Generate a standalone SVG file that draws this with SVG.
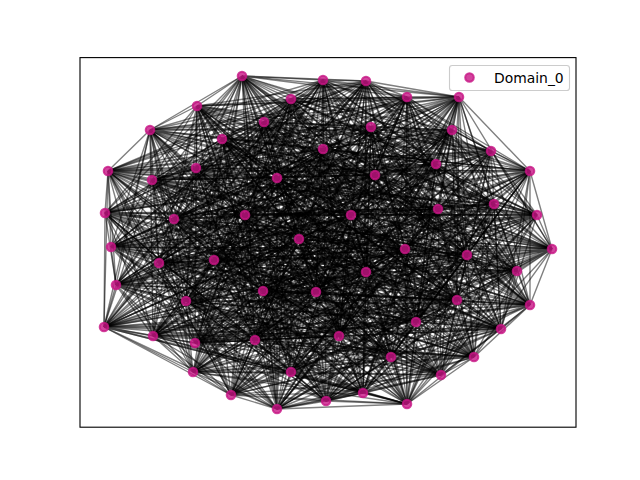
<svg xmlns="http://www.w3.org/2000/svg" width="640" height="480" viewBox="0 0 640 480">
<style>
.n{fill:#C71585;fill-opacity:0.8;stroke:#C71585;stroke-opacity:0.8;stroke-width:2}
#edges path{stroke:#000;stroke-opacity:0.5;stroke-width:1.39;fill:none}
</style>
<rect x="0" y="0" width="640" height="480" fill="#fff"/>
<g id="edges">
<path d="M242 76L323 80M242 76L407 97M242 76L197 106M242 76L222 139M242 76L491 151M242 76L196 168M242 76L277 178M242 76L105 213M242 76L351 215M242 76L537 215M242 76L111 247"/>
<path d="M323 80L366 81M323 80L459 97M323 80L150 130M323 80L371 127M323 80L530 171M323 80L152 180M323 80L375 175M323 80L174 219M323 80L438 209M323 80L552 249M323 80L299 239"/>
<path d="M366 81L407 97M366 81L291 99M366 81L264 122M366 81L452 130M366 81L108 171M366 81L323 149M366 81L436 164M366 81L245 215M366 81L494 204M366 81L111 247M366 81L405 249"/>
<path d="M407 97L459 97M407 97L197 106M407 97L222 139M407 97L491 151M407 97L196 168M407 97L277 178M407 97L105 213M407 97L351 215M407 97L537 215M407 97L299 239M407 97L467 255"/>
<path d="M459 97L291 99M459 97L150 130M459 97L371 127M459 97L530 171M459 97L152 180M459 97L375 175M459 97L174 219M459 97L438 209M459 97L552 249M459 97L405 249M459 97L214 260"/>
<path d="M291 99L197 106M291 99L264 122M291 99L452 130M291 99L108 171M291 99L323 149M291 99L436 164M291 99L245 215M291 99L494 204M291 99L111 247M291 99L467 255M291 99L159 263"/>
<path d="M197 106L150 130M197 106L222 139M197 106L491 151M197 106L196 168M197 106L277 178M197 106L105 213M197 106L351 215M197 106L537 215M197 106L299 239M197 106L214 260M197 106L517 271"/>
<path d="M150 130L264 122M150 130L371 127M150 130L530 171M150 130L152 180M150 130L375 175M150 130L174 219M150 130L438 209M150 130L552 249M150 130L405 249M150 130L159 263M150 130L116 285"/>
<path d="M264 122L222 139M264 122L452 130M264 122L108 171M264 122L323 149M264 122L436 164M264 122L245 215M264 122L494 204M264 122L111 247M264 122L467 255M264 122L517 271M264 122L366 272"/>
<path d="M222 139L371 127M222 139L491 151M222 139L196 168M222 139L277 178M222 139L105 213M222 139L351 215M222 139L537 215M222 139L299 239M222 139L214 260M222 139L116 285M222 139L263 291"/>
<path d="M371 127L452 130M371 127L530 171M371 127L152 180M371 127L375 175M371 127L174 219M371 127L438 209M371 127L552 249M371 127L405 249M371 127L159 263M371 127L366 272M371 127L316 292"/>
<path d="M452 130L491 151M452 130L108 171M452 130L323 149M452 130L436 164M452 130L245 215M452 130L494 204M452 130L111 247M452 130L467 255M452 130L517 271M452 130L263 291M452 130L457 300"/>
<path d="M491 151L530 171M491 151L196 168M491 151L277 178M491 151L105 213M491 151L351 215M491 151L537 215M491 151L299 239M491 151L214 260M491 151L116 285M491 151L316 292M491 151L530 305"/>
<path d="M530 171L108 171M530 171L152 180M530 171L375 175M530 171L174 219M530 171L438 209M530 171L552 249M530 171L405 249M530 171L159 263M530 171L366 272M530 171L457 300M530 171L186 301"/>
<path d="M108 171L196 168M108 171L323 149M108 171L436 164M108 171L245 215M108 171L494 204M108 171L111 247M108 171L467 255M108 171L517 271M108 171L263 291M108 171L530 305M108 171L104 327"/>
<path d="M196 168L152 180M196 168L277 178M196 168L105 213M196 168L351 215M196 168L537 215M196 168L299 239M196 168L214 260M196 168L116 285M196 168L316 292M196 168L186 301M196 168L416 322"/>
<path d="M152 180L323 149M152 180L375 175M152 180L174 219M152 180L438 209M152 180L552 249M152 180L405 249M152 180L159 263M152 180L366 272M152 180L457 300M152 180L104 327M152 180L501 329"/>
<path d="M323 149L277 178M323 149L436 164M323 149L245 215M323 149L494 204M323 149L111 247M323 149L467 255M323 149L517 271M323 149L263 291M323 149L530 305M323 149L416 322M323 149L153 336"/>
<path d="M277 178L375 175M277 178L105 213M277 178L351 215M277 178L537 215M277 178L299 239M277 178L214 260M277 178L116 285M277 178L316 292M277 178L186 301M277 178L501 329M277 178L195 343"/>
<path d="M375 175L436 164M375 175L174 219M375 175L438 209M375 175L552 249M375 175L405 249M375 175L159 263M375 175L366 272M375 175L457 300M375 175L104 327M375 175L153 336M375 175L255 340"/>
<path d="M436 164L105 213M436 164L245 215M436 164L494 204M436 164L111 247M436 164L467 255M436 164L517 271M436 164L263 291M436 164L530 305M436 164L416 322M436 164L195 343M436 164L339 336"/>
<path d="M105 213L174 219M105 213L351 215M105 213L537 215M105 213L299 239M105 213L214 260M105 213L116 285M105 213L316 292M105 213L186 301M105 213L501 329M105 213L255 340M105 213L474 357"/>
<path d="M174 219L245 215M174 219L438 209M174 219L552 249M174 219L405 249M174 219L159 263M174 219L366 272M174 219L457 300M174 219L104 327M174 219L153 336M174 219L339 336M174 219L391 357"/>
<path d="M245 215L351 215M245 215L494 204M245 215L111 247M245 215L467 255M245 215L517 271M245 215L263 291M245 215L530 305M245 215L416 322M245 215L195 343M245 215L474 357M245 215L193 372"/>
<path d="M351 215L438 209M351 215L537 215M351 215L299 239M351 215L214 260M351 215L116 285M351 215L316 292M351 215L186 301M351 215L501 329M351 215L255 340M351 215L391 357M351 215L291 372"/>
<path d="M438 209L494 204M438 209L552 249M438 209L405 249M438 209L159 263M438 209L366 272M438 209L457 300M438 209L104 327M438 209L153 336M438 209L339 336M438 209L193 372M438 209L441 375"/>
<path d="M494 204L537 215M494 204L111 247M494 204L467 255M494 204L517 271M494 204L263 291M494 204L530 305M494 204L416 322M494 204L195 343M494 204L474 357M494 204L291 372M494 204L231 395"/>
<path d="M537 215L552 249M537 215L299 239M537 215L214 260M537 215L116 285M537 215L316 292M537 215L186 301M537 215L501 329M537 215L255 340M537 215L391 357M537 215L441 375M537 215L277 409"/>
<path d="M552 249L111 247M552 249L405 249M552 249L159 263M552 249L366 272M552 249L457 300M552 249L104 327M552 249L153 336M552 249L339 336M552 249L193 372M552 249L231 395M552 249L326 401"/>
<path d="M111 247L299 239M111 247L467 255M111 247L517 271M111 247L263 291M111 247L530 305M111 247L416 322M111 247L195 343M111 247L474 357M111 247L291 372M111 247L277 409M111 247L363 393"/>
<path d="M299 239L405 249M299 239L214 260M299 239L116 285M299 239L316 292M299 239L186 301M299 239L501 329M299 239L255 340M299 239L391 357M299 239L441 375M299 239L326 401M299 239L407 404"/>
<path d="M405 249L467 255M405 249L159 263M405 249L366 272M405 249L457 300M405 249L104 327M405 249L153 336M405 249L339 336M405 249L193 372M405 249L231 395M405 249L363 393M405 249L242 76"/>
<path d="M467 255L214 260M467 255L517 271M467 255L263 291M467 255L530 305M467 255L416 322M467 255L195 343M467 255L474 357M467 255L291 372M467 255L277 409M467 255L407 404M467 255L323 80"/>
<path d="M214 260L159 263M214 260L116 285M214 260L316 292M214 260L186 301M214 260L501 329M214 260L255 340M214 260L391 357M214 260L441 375M214 260L326 401M214 260L242 76M214 260L366 81"/>
<path d="M159 263L517 271M159 263L366 272M159 263L457 300M159 263L104 327M159 263L153 336M159 263L339 336M159 263L193 372M159 263L231 395M159 263L363 393M159 263L323 80M159 263L407 97"/>
<path d="M517 271L116 285M517 271L263 291M517 271L530 305M517 271L416 322M517 271L195 343M517 271L474 357M517 271L291 372M517 271L277 409M517 271L407 404M517 271L366 81M517 271L459 97"/>
<path d="M116 285L366 272M116 285L316 292M116 285L186 301M116 285L501 329M116 285L255 340M116 285L391 357M116 285L441 375M116 285L326 401M116 285L242 76M116 285L407 97M116 285L291 99"/>
<path d="M366 272L263 291M366 272L457 300M366 272L104 327M366 272L153 336M366 272L339 336M366 272L193 372M366 272L231 395M366 272L363 393M366 272L323 80M366 272L459 97M366 272L197 106"/>
<path d="M263 291L316 292M263 291L530 305M263 291L416 322M263 291L195 343M263 291L474 357M263 291L291 372M263 291L277 409M263 291L407 404M263 291L366 81M263 291L291 99M263 291L150 130"/>
<path d="M316 292L457 300M316 292L186 301M316 292L501 329M316 292L255 340M316 292L391 357M316 292L441 375M316 292L326 401M316 292L242 76M316 292L407 97M316 292L197 106M316 292L264 122"/>
<path d="M457 300L530 305M457 300L104 327M457 300L153 336M457 300L339 336M457 300L193 372M457 300L231 395M457 300L363 393M457 300L323 80M457 300L459 97M457 300L150 130M457 300L222 139"/>
<path d="M530 305L186 301M530 305L416 322M530 305L195 343M530 305L474 357M530 305L291 372M530 305L277 409M530 305L407 404M530 305L366 81M530 305L291 99M530 305L264 122M530 305L371 127"/>
<path d="M186 301L104 327M186 301L501 329M186 301L255 340M186 301L391 357M186 301L441 375M186 301L326 401M186 301L242 76M186 301L407 97M186 301L197 106M186 301L222 139M186 301L452 130"/>
<path d="M104 327L416 322M104 327L153 336M104 327L339 336M104 327L193 372M104 327L231 395M104 327L363 393M104 327L323 80M104 327L459 97M104 327L150 130M104 327L371 127M104 327L491 151"/>
<path d="M416 322L501 329M416 322L195 343M416 322L474 357M416 322L291 372M416 322L277 409M416 322L407 404M416 322L366 81M416 322L291 99M416 322L264 122M416 322L452 130M416 322L530 171"/>
<path d="M501 329L153 336M501 329L255 340M501 329L391 357M501 329L441 375M501 329L326 401M501 329L242 76M501 329L407 97M501 329L197 106M501 329L222 139M501 329L491 151M501 329L108 171"/>
<path d="M153 336L195 343M153 336L339 336M153 336L193 372M153 336L231 395M153 336L363 393M153 336L323 80M153 336L459 97M153 336L150 130M153 336L371 127M153 336L530 171M153 336L196 168"/>
<path d="M195 343L255 340M195 343L474 357M195 343L291 372M195 343L277 409M195 343L407 404M195 343L366 81M195 343L291 99M195 343L264 122M195 343L452 130M195 343L108 171M195 343L152 180"/>
<path d="M255 340L339 336M255 340L391 357M255 340L441 375M255 340L326 401M255 340L242 76M255 340L407 97M255 340L197 106M255 340L222 139M255 340L491 151M255 340L196 168M255 340L323 149"/>
<path d="M339 336L474 357M339 336L193 372M339 336L231 395M339 336L363 393M339 336L323 80M339 336L459 97M339 336L150 130M339 336L371 127M339 336L530 171M339 336L152 180M339 336L277 178"/>
<path d="M474 357L391 357M474 357L291 372M474 357L277 409M474 357L407 404M474 357L366 81M474 357L291 99M474 357L264 122M474 357L452 130M474 357L108 171M474 357L323 149M474 357L375 175"/>
<path d="M391 357L193 372M391 357L441 375M391 357L326 401M391 357L242 76M391 357L407 97M391 357L197 106M391 357L222 139M391 357L491 151M391 357L196 168M391 357L277 178M391 357L436 164"/>
<path d="M193 372L291 372M193 372L231 395M193 372L363 393M193 372L323 80M193 372L459 97M193 372L150 130M193 372L371 127M193 372L530 171M193 372L152 180M193 372L375 175M193 372L105 213"/>
<path d="M291 372L441 375M291 372L277 409M291 372L407 404M291 372L366 81M291 372L291 99M291 372L264 122M291 372L452 130M291 372L108 171M291 372L323 149M291 372L436 164M291 372L174 219"/>
<path d="M441 375L231 395M441 375L326 401M441 375L242 76M441 375L407 97M441 375L197 106M441 375L222 139M441 375L491 151M441 375L196 168M441 375L277 178M441 375L105 213M441 375L245 215"/>
<path d="M231 395L277 409M231 395L363 393M231 395L323 80M231 395L459 97M231 395L150 130M231 395L371 127M231 395L530 171M231 395L152 180M231 395L375 175M231 395L174 219M231 395L351 215"/>
<path d="M277 409L326 401M277 409L407 404M277 409L366 81M277 409L291 99M277 409L264 122M277 409L452 130M277 409L108 171M277 409L323 149M277 409L436 164M277 409L245 215M277 409L438 209"/>
<path d="M326 401L363 393M326 401L242 76M326 401L407 97M326 401L197 106M326 401L222 139M326 401L491 151M326 401L196 168M326 401L277 178M326 401L105 213M326 401L351 215M326 401L494 204"/>
<path d="M363 393L407 404M363 393L323 80M363 393L459 97M363 393L150 130M363 393L371 127M363 393L530 171M363 393L152 180M363 393L375 175M363 393L174 219M363 393L438 209M363 393L537 215"/>
<path d="M407 404L242 76M407 404L366 81M407 404L291 99M407 404L264 122M407 404L452 130M407 404L108 171M407 404L323 149M407 404L436 164M407 404L245 215M407 404L494 204M407 404L552 249"/>
<path d="M242 76L366 81M242 76L459 97M242 76L150 130M242 76L371 127M242 76L530 171M242 76L152 180M242 76L375 175M242 76L174 219M242 76L438 209M242 76L552 249"/>
<path d="M323 80L407 97M323 80L291 99M323 80L264 122M323 80L452 130M323 80L108 171M323 80L323 149M323 80L436 164M323 80L245 215M323 80L494 204M323 80L111 247"/>
<path d="M366 81L459 97M366 81L197 106M366 81L222 139M366 81L491 151M366 81L196 168M366 81L277 178M366 81L105 213M366 81L351 215M366 81L537 215M366 81L299 239"/>
<path d="M407 97L291 99M407 97L150 130M407 97L371 127M407 97L530 171M407 97L152 180M407 97L375 175M407 97L174 219M407 97L438 209M407 97L552 249M407 97L405 249"/>
<path d="M459 97L197 106M459 97L264 122M459 97L452 130M459 97L108 171M459 97L323 149M459 97L436 164M459 97L245 215M459 97L494 204M459 97L111 247M459 97L467 255"/>
<path d="M291 99L150 130M291 99L222 139M291 99L491 151M291 99L196 168M291 99L277 178M291 99L105 213M291 99L351 215M291 99L537 215M291 99L299 239M291 99L214 260"/>
<path d="M197 106L264 122M197 106L371 127M197 106L530 171M197 106L152 180M197 106L375 175M197 106L174 219M197 106L438 209M197 106L552 249M197 106L405 249M197 106L159 263"/>
<path d="M150 130L222 139M150 130L452 130M150 130L108 171M150 130L323 149M150 130L436 164M150 130L245 215M150 130L494 204M150 130L111 247M150 130L467 255M150 130L517 271"/>
<path d="M264 122L371 127M264 122L491 151M264 122L196 168M264 122L277 178M264 122L105 213M264 122L351 215M264 122L537 215M264 122L299 239M264 122L214 260M264 122L116 285"/>
<path d="M222 139L452 130M222 139L530 171M222 139L152 180M222 139L375 175M222 139L174 219M222 139L438 209M222 139L552 249M222 139L405 249M222 139L159 263M222 139L366 272"/>
<path d="M371 127L491 151M371 127L108 171M371 127L323 149M371 127L436 164M371 127L245 215M371 127L494 204M371 127L111 247M371 127L467 255M371 127L517 271M371 127L263 291"/>
<path d="M452 130L530 171M452 130L196 168M452 130L277 178M452 130L105 213M452 130L351 215M452 130L537 215M452 130L299 239M452 130L214 260M452 130L116 285M452 130L316 292"/>
<path d="M491 151L108 171M491 151L152 180M491 151L375 175M491 151L174 219M491 151L438 209M491 151L552 249M491 151L405 249M491 151L159 263M491 151L366 272M491 151L457 300"/>
<path d="M530 171L196 168M530 171L323 149M530 171L436 164M530 171L245 215M530 171L494 204M530 171L111 247M530 171L467 255M530 171L517 271M530 171L263 291M530 171L530 305"/>
<path d="M108 171L152 180M108 171L277 178M108 171L105 213M108 171L351 215M108 171L537 215M108 171L299 239M108 171L214 260M108 171L116 285M108 171L316 292M108 171L186 301"/>
<path d="M196 168L323 149M196 168L375 175M196 168L174 219M196 168L438 209M196 168L552 249M196 168L405 249M196 168L159 263M196 168L366 272M196 168L457 300M196 168L104 327"/>
<path d="M152 180L277 178M152 180L436 164M152 180L245 215M152 180L494 204M152 180L111 247M152 180L467 255M152 180L517 271M152 180L263 291M152 180L530 305M152 180L416 322"/>
<path d="M323 149L375 175M323 149L105 213M323 149L351 215M323 149L537 215M323 149L299 239M323 149L214 260M323 149L116 285M323 149L316 292M323 149L186 301M323 149L501 329"/>
<path d="M277 178L436 164M277 178L174 219M277 178L438 209M277 178L552 249M277 178L405 249M277 178L159 263M277 178L366 272M277 178L457 300M277 178L104 327M277 178L153 336"/>
<path d="M375 175L105 213M375 175L245 215M375 175L494 204M375 175L111 247M375 175L467 255M375 175L517 271M375 175L263 291M375 175L530 305M375 175L416 322M375 175L195 343"/>
<path d="M436 164L174 219M436 164L351 215M436 164L537 215M436 164L299 239M436 164L214 260M436 164L116 285M436 164L316 292M436 164L186 301M436 164L501 329M436 164L255 340"/>
<path d="M105 213L245 215M105 213L438 209M105 213L552 249M105 213L405 249M105 213L159 263M105 213L366 272M105 213L457 300M105 213L104 327M105 213L153 336M105 213L339 336"/>
<path d="M174 219L351 215M174 219L494 204M174 219L111 247M174 219L467 255M174 219L517 271M174 219L263 291M174 219L530 305M174 219L416 322M174 219L195 343M174 219L474 357"/>
<path d="M245 215L438 209M245 215L537 215M245 215L299 239M245 215L214 260M245 215L116 285M245 215L316 292M245 215L186 301M245 215L501 329M245 215L255 340M245 215L391 357"/>
<path d="M351 215L494 204M351 215L552 249M351 215L405 249M351 215L159 263M351 215L366 272M351 215L457 300M351 215L104 327M351 215L153 336M351 215L339 336M351 215L193 372"/>
<path d="M438 209L537 215M438 209L111 247M438 209L467 255M438 209L517 271M438 209L263 291M438 209L530 305M438 209L416 322M438 209L195 343M438 209L474 357M438 209L291 372"/>
<path d="M494 204L552 249M494 204L299 239M494 204L214 260M494 204L116 285M494 204L316 292M494 204L186 301M494 204L501 329M494 204L255 340M494 204L391 357M494 204L441 375"/>
<path d="M537 215L111 247M537 215L405 249M537 215L159 263M537 215L366 272M537 215L457 300M537 215L104 327M537 215L153 336M537 215L339 336M537 215L193 372M537 215L231 395"/>
<path d="M552 249L299 239M552 249L467 255M552 249L517 271M552 249L263 291M552 249L530 305M552 249L416 322M552 249L195 343M552 249L474 357M552 249L291 372M552 249L277 409"/>
<path d="M111 247L405 249M111 247L214 260M111 247L116 285M111 247L316 292M111 247L186 301M111 247L501 329M111 247L255 340M111 247L391 357M111 247L441 375M111 247L326 401"/>
<path d="M299 239L467 255M299 239L159 263M299 239L366 272M299 239L457 300M299 239L104 327M299 239L153 336M299 239L339 336M299 239L193 372M299 239L231 395M299 239L363 393"/>
<path d="M405 249L214 260M405 249L517 271M405 249L263 291M405 249L530 305M405 249L416 322M405 249L195 343M405 249L474 357M405 249L291 372M405 249L277 409M405 249L407 404"/>
<path d="M467 255L159 263M467 255L116 285M467 255L316 292M467 255L186 301M467 255L501 329M467 255L255 340M467 255L391 357M467 255L441 375M467 255L326 401M467 255L242 76"/>
<path d="M214 260L517 271M214 260L366 272M214 260L457 300M214 260L104 327M214 260L153 336M214 260L339 336M214 260L193 372M214 260L231 395M214 260L363 393M214 260L323 80"/>
<path d="M159 263L116 285M159 263L263 291M159 263L530 305M159 263L416 322M159 263L195 343M159 263L474 357M159 263L291 372M159 263L277 409M159 263L407 404M159 263L366 81"/>
<path d="M517 271L366 272M517 271L316 292M517 271L186 301M517 271L501 329M517 271L255 340M517 271L391 357M517 271L441 375M517 271L326 401M517 271L242 76M517 271L407 97"/>
<path d="M116 285L263 291M116 285L457 300M116 285L104 327M116 285L153 336M116 285L339 336M116 285L193 372M116 285L231 395M116 285L363 393M116 285L323 80M116 285L459 97"/>
<path d="M366 272L316 292M366 272L530 305M366 272L416 322M366 272L195 343M366 272L474 357M366 272L291 372M366 272L277 409M366 272L407 404M366 272L366 81M366 272L291 99"/>
<path d="M263 291L457 300M263 291L186 301M263 291L501 329M263 291L255 340M263 291L391 357M263 291L441 375M263 291L326 401M263 291L242 76M263 291L407 97M263 291L197 106"/>
<path d="M316 292L530 305M316 292L104 327M316 292L153 336M316 292L339 336M316 292L193 372M316 292L231 395M316 292L363 393M316 292L323 80M316 292L459 97M316 292L150 130"/>
<path d="M457 300L186 301M457 300L416 322M457 300L195 343M457 300L474 357M457 300L291 372M457 300L277 409M457 300L407 404M457 300L366 81M457 300L291 99M457 300L264 122"/>
<path d="M530 305L104 327M530 305L501 329M530 305L255 340M530 305L391 357M530 305L441 375M530 305L326 401M530 305L242 76M530 305L407 97M530 305L197 106M530 305L222 139"/>
<path d="M186 301L416 322M186 301L153 336M186 301L339 336M186 301L193 372M186 301L231 395M186 301L363 393M186 301L323 80M186 301L459 97M186 301L150 130M186 301L371 127"/>
<path d="M104 327L501 329M104 327L195 343M104 327L474 357M104 327L291 372M104 327L277 409M104 327L407 404M104 327L366 81M104 327L291 99M104 327L264 122M104 327L452 130"/>
<path d="M416 322L153 336M416 322L255 340M416 322L391 357M416 322L441 375M416 322L326 401M416 322L242 76M416 322L407 97M416 322L197 106M416 322L222 139M416 322L491 151"/>
<path d="M501 329L195 343M501 329L339 336M501 329L193 372M501 329L231 395M501 329L363 393M501 329L323 80M501 329L459 97M501 329L150 130M501 329L371 127M501 329L530 171"/>
<path d="M153 336L255 340M153 336L474 357M153 336L291 372M153 336L277 409M153 336L407 404M153 336L366 81M153 336L291 99M153 336L264 122M153 336L452 130M153 336L108 171"/>
<path d="M195 343L339 336M195 343L391 357M195 343L441 375M195 343L326 401M195 343L242 76M195 343L407 97M195 343L197 106M195 343L222 139M195 343L491 151M195 343L196 168"/>
<path d="M255 340L474 357M255 340L193 372M255 340L231 395M255 340L363 393M255 340L323 80M255 340L459 97M255 340L150 130M255 340L371 127M255 340L530 171M255 340L152 180"/>
<path d="M339 336L391 357M339 336L291 372M339 336L277 409M339 336L407 404M339 336L366 81M339 336L291 99M339 336L264 122M339 336L452 130M339 336L108 171M339 336L323 149"/>
<path d="M474 357L193 372M474 357L441 375M474 357L326 401M474 357L242 76M474 357L407 97M474 357L197 106M474 357L222 139M474 357L491 151M474 357L196 168M474 357L277 178"/>
<path d="M391 357L291 372M391 357L231 395M391 357L363 393M391 357L323 80M391 357L459 97M391 357L150 130M391 357L371 127M391 357L530 171M391 357L152 180M391 357L375 175"/>
<path d="M193 372L441 375M193 372L277 409M193 372L407 404M193 372L366 81M193 372L291 99M193 372L264 122M193 372L452 130M193 372L108 171M193 372L323 149M193 372L436 164"/>
<path d="M291 372L231 395M291 372L326 401M291 372L242 76M291 372L407 97M291 372L197 106M291 372L222 139M291 372L491 151M291 372L196 168M291 372L277 178M291 372L105 213"/>
<path d="M441 375L277 409M441 375L363 393M441 375L323 80M441 375L459 97M441 375L150 130M441 375L371 127M441 375L530 171M441 375L152 180M441 375L375 175M441 375L174 219"/>
<path d="M231 395L326 401M231 395L407 404M231 395L366 81M231 395L291 99M231 395L264 122M231 395L452 130M231 395L108 171M231 395L323 149M231 395L436 164M231 395L245 215"/>
<path d="M277 409L363 393M277 409L242 76M277 409L407 97M277 409L197 106M277 409L222 139M277 409L491 151M277 409L196 168M277 409L277 178M277 409L105 213M277 409L351 215"/>
<path d="M326 401L407 404M326 401L323 80M326 401L459 97M326 401L150 130M326 401L371 127M326 401L530 171M326 401L152 180M326 401L375 175M326 401L174 219M326 401L438 209"/>
<path d="M363 393L242 76M363 393L366 81M363 393L291 99M363 393L264 122M363 393L452 130M363 393L108 171M363 393L323 149M363 393L436 164M363 393L245 215M363 393L494 204"/>
<path d="M407 404L323 80M407 404L407 97M407 404L197 106M407 404L222 139M407 404L491 151M407 404L196 168M407 404L277 178M407 404L105 213M407 404L351 215M407 404L537 215"/>
</g>
<g id="nodes">
<g id="n0"><circle class="n" cx="242" cy="76" r="4.3"/></g>
<g id="n1"><circle class="n" cx="323" cy="80" r="4.3"/></g>
<g id="n2"><circle class="n" cx="366" cy="81" r="4.3"/></g>
<g id="n3"><circle class="n" cx="407" cy="97" r="4.3"/></g>
<g id="n4"><circle class="n" cx="459" cy="97" r="4.3"/></g>
<g id="n5"><circle class="n" cx="291" cy="99" r="4.3"/></g>
<g id="n6"><circle class="n" cx="197" cy="106" r="4.3"/></g>
<g id="n7"><circle class="n" cx="150" cy="130" r="4.3"/></g>
<g id="n8"><circle class="n" cx="264" cy="122" r="4.3"/></g>
<g id="n9"><circle class="n" cx="222" cy="139" r="4.3"/></g>
<g id="n10"><circle class="n" cx="371" cy="127" r="4.3"/></g>
<g id="n11"><circle class="n" cx="452" cy="130" r="4.3"/></g>
<g id="n12"><circle class="n" cx="491" cy="151" r="4.3"/></g>
<g id="n13"><circle class="n" cx="530" cy="171" r="4.3"/></g>
<g id="n14"><circle class="n" cx="108" cy="171" r="4.3"/></g>
<g id="n15"><circle class="n" cx="196" cy="168" r="4.3"/></g>
<g id="n16"><circle class="n" cx="152" cy="180" r="4.3"/></g>
<g id="n17"><circle class="n" cx="323" cy="149" r="4.3"/></g>
<g id="n18"><circle class="n" cx="277" cy="178" r="4.3"/></g>
<g id="n19"><circle class="n" cx="375" cy="175" r="4.3"/></g>
<g id="n20"><circle class="n" cx="436" cy="164" r="4.3"/></g>
<g id="n21"><circle class="n" cx="105" cy="213" r="4.3"/></g>
<g id="n22"><circle class="n" cx="174" cy="219" r="4.3"/></g>
<g id="n23"><circle class="n" cx="245" cy="215" r="4.3"/></g>
<g id="n24"><circle class="n" cx="351" cy="215" r="4.3"/></g>
<g id="n25"><circle class="n" cx="438" cy="209" r="4.3"/></g>
<g id="n26"><circle class="n" cx="494" cy="204" r="4.3"/></g>
<g id="n27"><circle class="n" cx="537" cy="215" r="4.3"/></g>
<g id="n28"><circle class="n" cx="552" cy="249" r="4.3"/></g>
<g id="n29"><circle class="n" cx="111" cy="247" r="4.3"/></g>
<g id="n30"><circle class="n" cx="299" cy="239" r="4.3"/></g>
<g id="n31"><circle class="n" cx="405" cy="249" r="4.3"/></g>
<g id="n32"><circle class="n" cx="467" cy="255" r="4.3"/></g>
<g id="n33"><circle class="n" cx="214" cy="260" r="4.3"/></g>
<g id="n34"><circle class="n" cx="159" cy="263" r="4.3"/></g>
<g id="n35"><circle class="n" cx="517" cy="271" r="4.3"/></g>
<g id="n36"><circle class="n" cx="116" cy="285" r="4.3"/></g>
<g id="n37"><circle class="n" cx="366" cy="272" r="4.3"/></g>
<g id="n38"><circle class="n" cx="263" cy="291" r="4.3"/></g>
<g id="n39"><circle class="n" cx="316" cy="292" r="4.3"/></g>
<g id="n40"><circle class="n" cx="457" cy="300" r="4.3"/></g>
<g id="n41"><circle class="n" cx="530" cy="305" r="4.3"/></g>
<g id="n42"><circle class="n" cx="186" cy="301" r="4.3"/></g>
<g id="n43"><circle class="n" cx="104" cy="327" r="4.3"/></g>
<g id="n44"><circle class="n" cx="416" cy="322" r="4.3"/></g>
<g id="n45"><circle class="n" cx="501" cy="329" r="4.3"/></g>
<g id="n46"><circle class="n" cx="153" cy="336" r="4.3"/></g>
<g id="n47"><circle class="n" cx="195" cy="343" r="4.3"/></g>
<g id="n48"><circle class="n" cx="255" cy="340" r="4.3"/></g>
<g id="n49"><circle class="n" cx="339" cy="336" r="4.3"/></g>
<g id="n50"><circle class="n" cx="474" cy="357" r="4.3"/></g>
<g id="n51"><circle class="n" cx="391" cy="357" r="4.3"/></g>
<g id="n52"><circle class="n" cx="193" cy="372" r="4.3"/></g>
<g id="n53"><circle class="n" cx="291" cy="372" r="4.3"/></g>
<g id="n54"><circle class="n" cx="441" cy="375" r="4.3"/></g>
<g id="n55"><circle class="n" cx="231" cy="395" r="4.3"/></g>
<g id="n56"><circle class="n" cx="277" cy="409" r="4.3"/></g>
<g id="n57"><circle class="n" cx="326" cy="401" r="4.3"/></g>
<g id="n58"><circle class="n" cx="363" cy="393" r="4.3"/></g>
<g id="n59"><circle class="n" cx="407" cy="404" r="4.3"/></g>
</g>
<rect id="frame" x="80" y="57.6" width="496" height="369.6" fill="none" stroke="#000" stroke-width="1.11"/>
<g id="legend">
<rect x="449.5" y="65.5" width="120" height="25" rx="2.8" fill="#fff" fill-opacity="0.8" stroke="#ccc" stroke-width="1.11"/>
<circle class="n" cx="469.5" cy="77.5" r="4.3"/>
<text x="494" y="82.5" font-family="DejaVu Sans, sans-serif" font-size="13.9" fill="#000">Domain_0</text>
</g>
</svg>
